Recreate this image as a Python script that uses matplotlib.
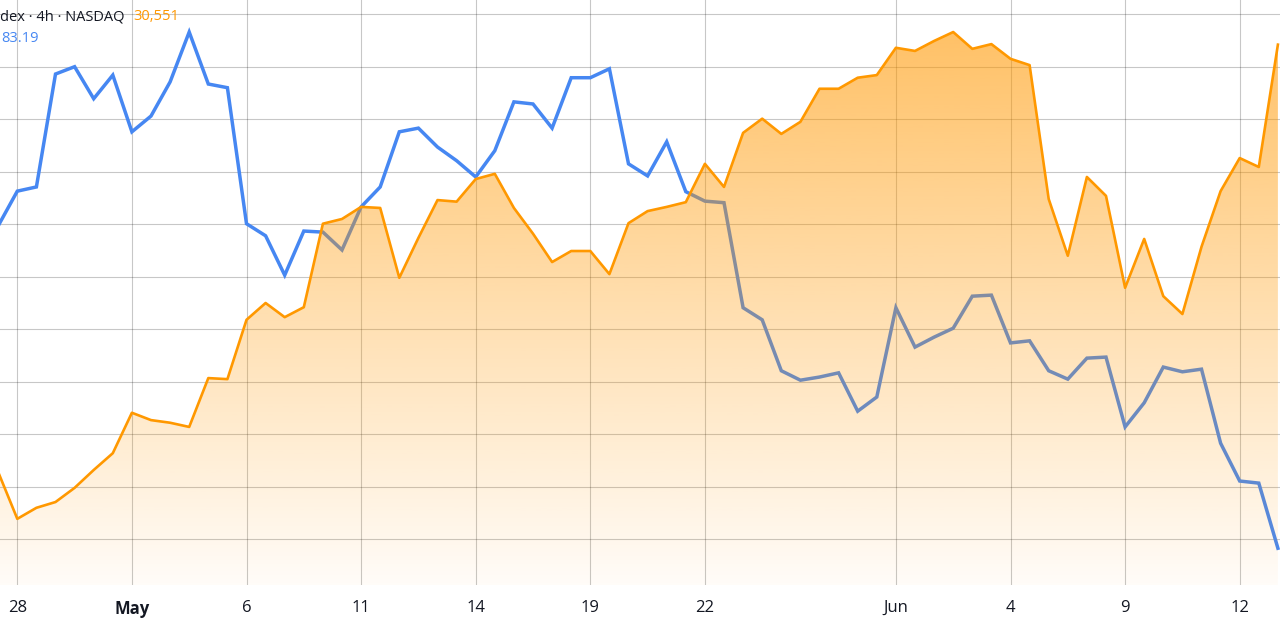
import numpy as np
import matplotlib
matplotlib.use("Agg")
import matplotlib.pyplot as plt
from matplotlib.patches import PathPatch

# ---- data (arbitrary normalised units, grid step = 1) ----
blue_values = [5.97, 6.63, 6.71, 8.86, 9.00, 8.39, 8.84, 7.76, 8.06, 8.71,
               9.66, 8.67, 8.60, 6.01, 5.78, 5.03, 5.87, 5.85, 5.51, 6.33,
               6.71, 7.76, 7.83, 7.47, 7.21, 6.90, 7.40, 8.33, 8.29, 7.83,
               8.79, 8.79, 8.96, 7.15, 6.92, 7.57, 6.62, 6.44, 6.41, 4.41,
               4.18, 3.21, 3.03, 3.09, 3.17, 2.44, 2.71, 4.41, 3.66, 3.85,
               4.02, 4.63, 4.65, 3.74, 3.78, 3.21, 3.05, 3.45, 3.47, 2.14,
               2.60, 3.28, 3.19, 3.24, 1.83, 1.11, 1.07, -0.17]
orange_values = [1.28, 0.39, 0.60, 0.71, 0.98, 1.32, 1.64, 2.41, 2.27, 2.22,
                 2.14, 3.07, 3.05, 4.18, 4.50, 4.23, 4.42, 6.01, 6.10, 6.33,
                 6.31, 4.98, 5.74, 6.46, 6.43, 6.86, 6.96, 6.31, 5.82, 5.28,
                 5.49, 5.49, 5.05, 6.02, 6.25, 6.33, 6.42, 7.15, 6.71, 7.74,
                 8.01, 7.72, 7.95, 8.58, 8.58, 8.79, 8.84, 9.36, 9.30, 9.49,
                 9.66, 9.34, 9.43, 9.15, 9.03, 6.48, 5.40, 6.90, 6.54, 4.79,
                 5.72, 4.63, 4.29, 5.57, 6.63, 7.26, 7.09, 9.42]
tick_index = [1, 7, 13, 19, 25, 31, 37, 47, 53, 59, 65]
tick_labels = ["28", "May", "6", "11", "14", "19", "22", "Jun", "4", "9", "12"]
bold_labels = ["May"]
title_text = "dex · 4h · NASDAQ"
orange_last = "30,551"
blue_last = "83.19"

BLUE = "#4687F2"
ORANGE = "#FF9800"
TEXT = "#131722"

W, H = 1280, 629
fig = plt.figure(figsize=(W / 100, H / 100), dpi=100)
ax = fig.add_axes([0, 44 / H, 1, 585 / H])

x = np.arange(len(blue_values))
xmin, xmax = 0.094, 67.11
ymin, ymax = -0.87, 10.27
ax.set_xlim(xmin, xmax)
ax.set_ylim(ymin, ymax)

# grid
ax.set_yticks(np.arange(0, 11))
ax.set_xticks(tick_index)
ax.set_xticklabels(tick_labels)
ax.grid(True, color="#000000", alpha=0.22, linewidth=0.8, zorder=0)
ax.set_axisbelow(True)
for s in ax.spines.values():
    s.set_visible(False)
ax.tick_params(axis="both", length=0)
ax.tick_params(axis="y", labelleft=False)
ax.tick_params(axis="x", pad=11, labelsize=12, labelcolor=TEXT)
for lab in ax.get_xticklabels():
    lab.set_fontfamily("Open Sans")
    if lab.get_text() in bold_labels:
        lab.set_fontweight("bold")

# blue line (under the orange area)
ax.plot(x, blue_values, color=BLUE, linewidth=2.5, zorder=2, solid_joinstyle="miter")

# orange gradient area
poly = ax.fill_between(x, orange_values, ymin, facecolor="none", edgecolor="none")
path = poly.get_paths()[0]
clip = PathPatch(path, facecolor="none", edgecolor="none", transform=ax.transData)
ax.add_patch(clip)
top = max(orange_values)
grad = np.zeros((256, 1, 4))
grad[..., :3] = matplotlib.colors.to_rgb(ORANGE)
grad[:, 0, 3] = np.linspace(0.03, 0.60, 256)
im = ax.imshow(grad, extent=[xmin - 1, xmax + 1, ymin, top], origin="lower",
               aspect="auto", zorder=3, interpolation="bilinear")
im.set_clip_path(clip)
ax.set_xlim(xmin, xmax)
ax.set_ylim(ymin, ymax)

ax.plot(x, orange_values, color=ORANGE, linewidth=1.9, zorder=4)

# header texts
fig.text(0 / W, 1 - 17 / H, title_text, color=TEXT, fontsize=10.5,
         fontfamily="Open Sans", ha="left", va="center")
fig.text(133 / W, 1 - 17 / H, orange_last, color=ORANGE, fontsize=10.5,
         fontfamily="Open Sans", ha="left", va="center")
fig.text(1 / W, 1 - 38 / H, blue_last, color=BLUE, fontsize=10.5,
         fontfamily="Open Sans", ha="left", va="center")

fig.savefig("out.png", dpi=100)
